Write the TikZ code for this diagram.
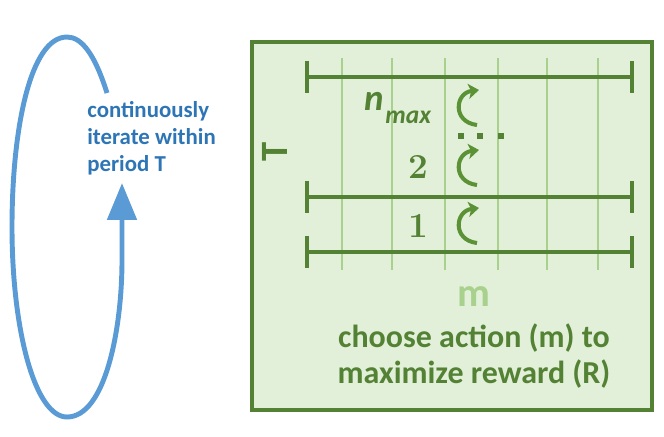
\documentclass[tikz,border=0pt]{standalone}
\usepackage{fontspec}
\setsansfont{Carlito}
\usepackage{xcolor}
\usepackage{tikz}
\usetikzlibrary{arrows.meta, positioning, calc}

\definecolor{darkgreen}{HTML}{548235}
\definecolor{arrowgreen}{HTML}{5B9236}
\definecolor{palegreen}{HTML}{E2F0D9}
\definecolor{gridgreen}{HTML}{A9D18E}
\definecolor{loopblue}{HTML}{5B9BD5}
\definecolor{textblue}{HTML}{2E75B6}

\begin{document}
\begin{tikzpicture}[
    x=0.02cm, y=-0.02cm,
    panel/.style={draw=darkgreen, fill=palegreen, line width=2.8pt},
    gridline/.style={draw=gridgreen, line width=1.6pt},
    period/.style={draw=darkgreen, line width=2.4pt, {Bar[width=18pt]}-{Bar[width=18pt]}},
    turn/.style={draw=arrowgreen, line width=2.3pt, -{Stealth[length=6pt, width=8.5pt, inset=1.5pt]}},
    dotsq/.style={rectangle, fill=darkgreen, inner sep=0pt, minimum size=3.3pt},
    label/.style={font=\sffamily\bfseries, text=darkgreen, inner sep=0pt},
    digit/.style={font=\fontsize{20}{22}\rmfamily\bfseries, text=darkgreen, inner sep=0pt},
    loop/.style={draw=loopblue, line width=2.8pt, -{Triangle[length=21pt, width=16.5pt]}}
]
\useasboundingbox (0,0) rectangle (664,437);

% Panel
\draw[panel] (252,42) rectangle (652,410);

% action grid
\foreach \x in {342,392,445,498,547,598}
    \draw[gridline] (\x,58) -- (\x,270);

% period bars
\draw[period] (305,77) -- (634,77);
\draw[period] (305,197) -- (634,197);
\draw[period] (305,252) -- (634,252);

% Labels
\node[label, font=\fontsize{22}{24}\sffamily\bfseries, rotate=90] (axisT) at (275,152) {T};
\node[label, anchor=base east, font=\fontsize{21}{24}\sffamily\bfseries\itshape] (nmax) at (384,110) {n};
\node[label, anchor=base west, font=\fontsize{14.5}{17}\sffamily\bfseries\itshape] (maxsub) at (385,123) {max};
\node[digit] (two) at (418,167) {2};
\node[digit] (one) at (418,226) {1};

% turn arrows
\coordinate (turnn) at (466,107);
\coordinate (turntwo) at (466,167);
\coordinate (turnone) at (466,225);
\foreach \c in {turnn,turntwo,turnone}
    \draw[turn] ($(\c)+(11,18)$) .. controls ($(\c)+(-14,15)$) and ($(\c)+(-11,-14)$) .. ($(\c)+(13,-17)$);

\foreach \x [count=\i] in {461,480,501}
    \node[dotsq] (dot\i) at (\x,136) {};

\node[label, text=gridgreen, font=\fontsize{23}{26}\sffamily\bfseries] (actm) at (474,297) {m};
\node[label, align=center, font=\fontsize{18.2}{20.5}\sffamily\bfseries, below=9pt of actm] (goal) {choose action (m) to\\maximize reward (R)};

% Loop
\node[label, text=textblue, align=left, anchor=north west, font=\fontsize{13}{15.3}\sffamily\bfseries] (looplabel) at (87,101) {continuously\\iterate within\\period T};
\coordinate (loopstart) at (107,93);
\coordinate (looptip) at (122,183);
\draw[loop] (loopstart) .. controls (95,55) and (82,37) .. (67,37)
    .. controls (30,37) and (12,130) .. (12,227)
    .. controls (12,330) and (35,417) .. (67,417)
    .. controls (105,417) and (122,330) .. (122,260) -- (looptip);

\end{tikzpicture}
\end{document}
